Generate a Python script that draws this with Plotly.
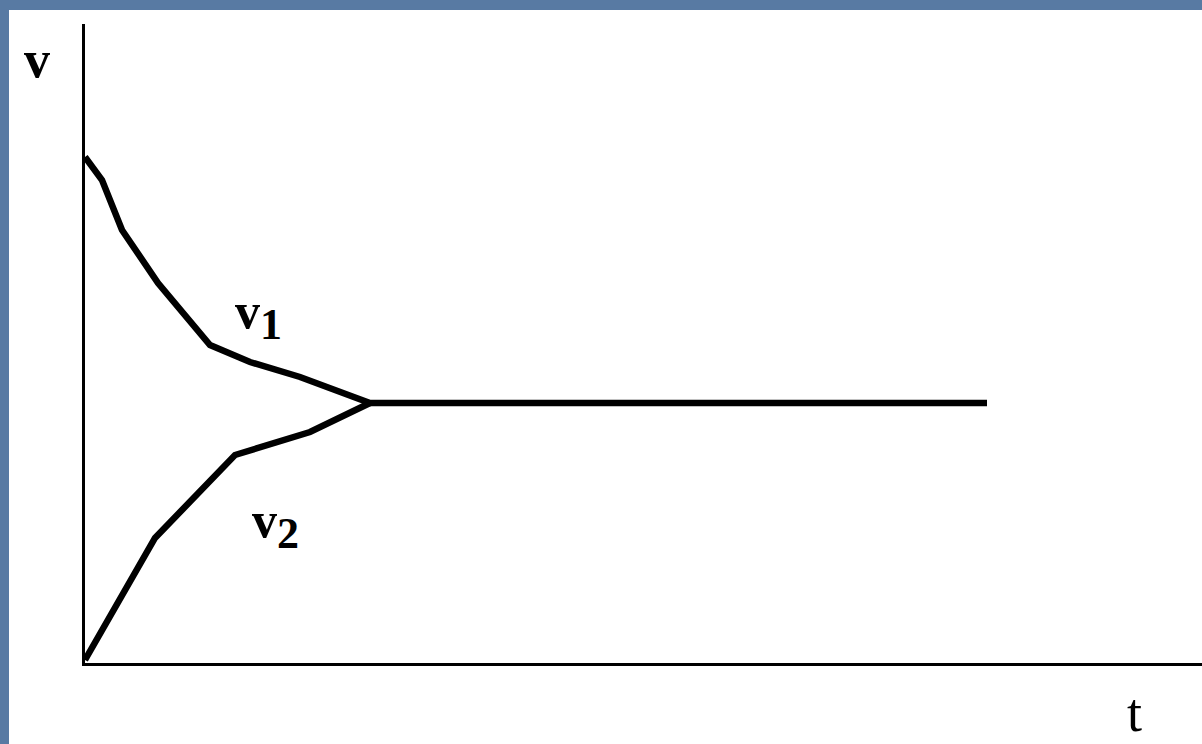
import plotly.graph_objects as go

# Data (t, v in arbitrary units)
v1_t = [0.0, 1.7, 3.7, 7.3, 12.5, 16.5, 21.5, 28.5, 90.2]
v1_v = [50.6, 48.3, 43.3, 38.0, 31.8, 30.1, 28.6, 26.0, 26.0]
v2_t = [0.0, 7.0, 15.0, 18.5, 22.5, 28.5]
v2_v = [0.3, 12.5, 20.8, 21.8, 23.1, 26.0]

labels = ["v", "v<sub><span style='font-size:44px'>1</span></sub>",
          "v<sub><span style='font-size:44px'>2</span></sub>", "t"]

W, H = 1202, 744
L, R, T, B = 85, 0, 24, 81
PW, PH = W - L - R, H - T - B

def px(x):
    return (x - L) / PW

def py(y):
    return (H - B - y) / PH

fig = go.Figure()
for tt, vv in [(v1_t, v1_v), (v2_t, v2_v)]:
    fig.add_trace(go.Scatter(x=tt, y=vv, mode="lines",
                             line=dict(color="black", width=6.5),
                             showlegend=False, hoverinfo="skip"))

serif = "Liberation Serif"
ann = [
    dict(text="<b>" + labels[0] + "</b>", x=px(37), y=py(59), size=52, anchor="middle"),
    dict(text="<b>" + labels[1] + "</b>", x=px(258), y=py(316), size=50, anchor="middle"),
    dict(text="<b>" + labels[2] + "</b>", x=px(275), y=py(525), size=50, anchor="middle"),
    dict(text=labels[3], x=px(1134), y=py(744), size=54, anchor="bottom"),
]
for a in ann:
    fig.add_annotation(text=a["text"], x=a["x"], y=a["y"], xref="paper", yref="paper",
                       showarrow=False, xanchor="center", yanchor=a["anchor"],
                       borderpad=0,
                       font=dict(family=serif, size=a["size"], color="black"))

blue = "rgb(88,122,163)"
# blue frame (left and top strips)
fig.add_shape(type="rect", xref="paper", yref="paper",
              x0=px(0), x1=px(9), y0=py(H), y1=py(0),
              fillcolor=blue, line=dict(width=0), layer="above")
fig.add_shape(type="rect", xref="paper", yref="paper",
              x0=px(0), x1=px(W), y0=py(10), y1=py(0),
              fillcolor=blue, line=dict(width=0), layer="above")

axis_common = dict(showgrid=False, zeroline=False, showticklabels=False,
                   ticks="", showline=True, linecolor="black", linewidth=3,
                   mirror=False, fixedrange=True)
fig.update_xaxes(range=[0, PW / 10], **axis_common)
fig.update_yaxes(range=[0, PH / 10], **axis_common)

fig.update_layout(width=W, height=H, margin=dict(l=L, r=R, t=T, b=B),
                  paper_bgcolor="white", plot_bgcolor="white")

fig.write_html("out.html", config={"displayModeBar": False},
               post_script="document.body.style.margin='0';document.body.style.padding='0';document.body.style.overflow='hidden';")
